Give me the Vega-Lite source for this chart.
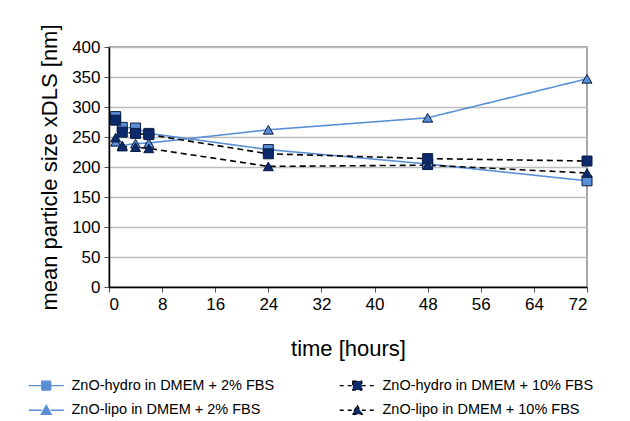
{
  "$schema": "https://vega.github.io/schema/vega-lite/v6.json",
  "autosize": {"type": "none"},
  "width": 478,
  "height": 240,
  "padding": {"left": 109, "top": 47, "right": 43, "bottom": 134},
  "background": "white",
  "config": {
    "font": "Liberation Sans",
    "view": {"stroke": "#8c8c8c", "strokeWidth": 1.5},
    "axis": {
      "domainColor": "#000",
      "domainWidth": 1.5,
      "tickColor": "#555",
      "tickSize": 5,
      "labelColor": "#000",
      "titleColor": "#000",
      "labelFontSize": 17,
      "titleFontSize": 22,
      "titleFontWeight": "normal",
      "gridColor": "#bdbdbd",
      "gridWidth": 1.5
    }
  },
  "data": {
    "values": [
      {"t": 1, "v": 284, "s": "ZnO-hydro in DMEM + 2% FBS"},
      {"t": 2, "v": 266, "s": "ZnO-hydro in DMEM + 2% FBS"},
      {"t": 4, "v": 265, "s": "ZnO-hydro in DMEM + 2% FBS"},
      {"t": 6, "v": 256, "s": "ZnO-hydro in DMEM + 2% FBS"},
      {"t": 24, "v": 229, "s": "ZnO-hydro in DMEM + 2% FBS"},
      {"t": 48, "v": 205, "s": "ZnO-hydro in DMEM + 2% FBS"},
      {"t": 72, "v": 177, "s": "ZnO-hydro in DMEM + 2% FBS"},
      {"t": 1, "v": 242, "s": "ZnO-lipo in DMEM + 2% FBS"},
      {"t": 2, "v": 236, "s": "ZnO-lipo in DMEM + 2% FBS"},
      {"t": 4, "v": 239, "s": "ZnO-lipo in DMEM + 2% FBS"},
      {"t": 6, "v": 240, "s": "ZnO-lipo in DMEM + 2% FBS"},
      {"t": 24, "v": 262, "s": "ZnO-lipo in DMEM + 2% FBS"},
      {"t": 48, "v": 282, "s": "ZnO-lipo in DMEM + 2% FBS"},
      {"t": 72, "v": 347, "s": "ZnO-lipo in DMEM + 2% FBS"},
      {"t": 1, "v": 278, "s": "ZnO-hydro in DMEM + 10% FBS"},
      {"t": 2, "v": 258, "s": "ZnO-hydro in DMEM + 10% FBS"},
      {"t": 4, "v": 256, "s": "ZnO-hydro in DMEM + 10% FBS"},
      {"t": 6, "v": 254, "s": "ZnO-hydro in DMEM + 10% FBS"},
      {"t": 24, "v": 222, "s": "ZnO-hydro in DMEM + 10% FBS"},
      {"t": 48, "v": 214, "s": "ZnO-hydro in DMEM + 10% FBS"},
      {"t": 72, "v": 210, "s": "ZnO-hydro in DMEM + 10% FBS"},
      {"t": 1, "v": 249, "s": "ZnO-lipo in DMEM + 10% FBS"},
      {"t": 2, "v": 234, "s": "ZnO-lipo in DMEM + 10% FBS"},
      {"t": 4, "v": 233, "s": "ZnO-lipo in DMEM + 10% FBS"},
      {"t": 6, "v": 231, "s": "ZnO-lipo in DMEM + 10% FBS"},
      {"t": 24, "v": 201, "s": "ZnO-lipo in DMEM + 10% FBS"},
      {"t": 48, "v": 203, "s": "ZnO-lipo in DMEM + 10% FBS"},
      {"t": 72, "v": 190, "s": "ZnO-lipo in DMEM + 10% FBS"}
    ]
  },
  "encoding": {
    "x": {
      "field": "t",
      "type": "quantitative",
      "scale": {"domain": [0, 72], "nice": false},
      "axis": {
        "values": [0, 8, 16, 24, 32, 40, 48, 56, 64, 72],
        "grid": false,
        "title": "time [hours]",
        "titlePadding": 26,
        "labelPadding": 4
      }
    },
    "y": {
      "field": "v",
      "type": "quantitative",
      "scale": {"domain": [0, 400], "nice": false},
      "axis": {
        "values": [0, 50, 100, 150, 200, 250, 300, 350, 400],
        "title": "mean particle size xDLS [nm]",
        "titlePadding": 10,
        "labelPadding": 4
      }
    }
  },
  "layer": [
    {
      "mark": {"type": "line", "strokeWidth": 1.6},
      "encoding": {
        "detail": {"field": "s"},
        "stroke": {
          "field": "s",
          "type": "nominal",
          "scale": {
            "domain": ["ZnO-hydro in DMEM + 2% FBS", "ZnO-lipo in DMEM + 2% FBS", "ZnO-hydro in DMEM + 10% FBS", "ZnO-lipo in DMEM + 10% FBS"],
            "range": ["#5b8fd5", "#5b8fd5", "#000000", "#000000"]
          },
          "legend": {
            "title": null,
            "orient": "none",
            "legendX": -70,
            "legendY": 331,
            "columns": 2,
            "columnPadding": 62,
            "rowPadding": 9,
            "symbolSize": 100,
            "symbolStrokeWidth": 1.3,
            "labelFontSize": 14.5,
            "labelOffset": 18,
            "labelLimit": 400,
            "labelColor": "#000",
            "encode": {
              "symbols": {
                "update": {
                  "shape": {"signal": "indexof(datum.value, 'hydro') >= 0 ? 'M-3.5,0H-0.9M0.9,0H3.5M-0.9,-0.9H0.9V0.9H-0.9Z' : 'M-3.5,0H-0.9M0.9,0H3.5M0,-1L1,0.8H-1Z'"},
                  "fill": {"signal": "indexof(datum.value, '10%') >= 0 ? '#0c2a6b' : '#5b8fd5'"},
                  "strokeDash": {"signal": "indexof(datum.value, '10%') >= 0 ? [4, 4] : [1, 0]"},
                  "opacity": {"value": 1}
                }
              }
            }
          }
        },
        "strokeDash": {
          "condition": {"test": "indexof(datum.s, '10%') >= 0", "value": [6, 4]},
          "value": [1, 0]
        }
      }
    },
    {
      "mark": {"type": "point", "filled": true, "size": 100, "stroke": "#0a1d45", "strokeWidth": 1, "opacity": 1},
      "encoding": {
        "shape": {
          "condition": {"test": "indexof(datum.s, 'hydro') >= 0", "value": "square"},
          "value": "triangle-up"
        },
        "fill": {
          "condition": {"test": "indexof(datum.s, '10%') >= 0", "value": "#0c2a6b"},
          "value": "#5b8fd5"
        }
      }
    }
  ]
}
